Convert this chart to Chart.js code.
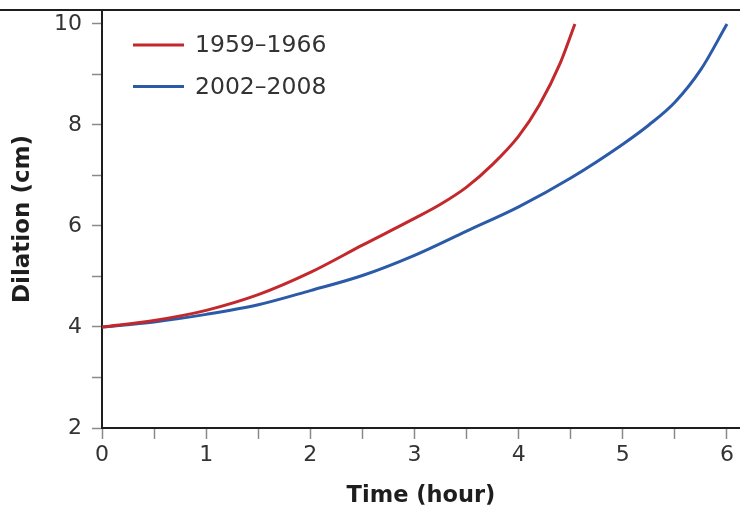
<!DOCTYPE html>
<html>
<head>
<meta charset="utf-8">
<script src="https://cdn.jsdelivr.net/npm/chart.js@4/dist/chart.umd.min.js"></script>
<style>
  html, body { margin: 0; padding: 0; background: #fff; }
  #wrap { width: 740px; height: 513px; }
</style>
</head>
<body>
<div id="wrap"><canvas id="c" width="740" height="513"></canvas></div>
<script>
// ---- data ----
const seriesLabels = ['1959\u20131966', '2002\u20132008'];
const redX = [0, 0.5, 1, 1.5, 2, 2.5, 3, 3.25, 3.5, 3.75, 4, 4.2, 4.4, 4.54];
const redY = [4.0, 4.13, 4.33, 4.64, 5.08, 5.62, 6.15, 6.43, 6.77, 7.22, 7.78, 8.40, 9.23, 10.0];
const blueX = [0, 0.5, 1, 1.5, 2, 2.5, 3, 3.5, 4, 4.5, 5, 5.25, 5.5, 5.75, 6];
const blueY = [4.0, 4.1, 4.25, 4.44, 4.72, 5.02, 5.42, 5.90, 6.38, 6.95, 7.62, 8.0, 8.45, 9.1, 10.0];
const xTicks = [0, 0.5, 1, 1.5, 2, 2.5, 3, 3.5, 4, 4.5, 5, 5.5, 6];
const xTickLabels = ['0', '', '1', '', '2', '', '3', '', '4', '', '5', '', '6'];
const yTicks = [2, 3, 4, 5, 6, 7, 8, 9, 10];
const yTickLabels = ['2', '', '4', '', '6', '', '8', '', '10'];

const RED = '#c3282c';
const BLUE = '#2b5ba8';
const FONT = 'DejaVu Sans';

function toPoints(xs, ys) { return xs.map((x, i) => ({ x: x, y: ys[i] })); }

const frameAndLegend = {
  id: 'frameAndLegend',
  afterDraw(chart) {
    const ctx = chart.ctx;
    const a = chart.chartArea;
    ctx.save();
    // top frame line
    ctx.strokeStyle = '#1e1e1e';
    ctx.lineWidth = 2;
    ctx.beginPath();
    ctx.moveTo(0, a.top);
    ctx.lineTo(chart.width, a.top);
    ctx.stroke();
    // legend
    const rows = [35, 76.5];
    chart.data.datasets.forEach((ds, i) => {
      const y = a.top + rows[i];
      ctx.strokeStyle = ds.borderColor;
      ctx.lineWidth = 3;
      ctx.beginPath();
      ctx.moveTo(a.left + 31, y);
      ctx.lineTo(a.left + 82, y);
      ctx.stroke();
      ctx.fillStyle = '#333';
      ctx.font = '23.5px "' + FONT + '"';
      ctx.textAlign = 'left';
      ctx.textBaseline = 'middle';
      ctx.fillText(ds.label, a.left + 93, y + 1);
    });
    ctx.restore();
  }
};

new Chart(document.getElementById('c'), {
  type: 'line',
  data: {
    datasets: [
      { label: seriesLabels[0], data: toPoints(redX, redY), borderColor: RED, backgroundColor: RED,
        borderWidth: 3, pointRadius: 0, tension: 0.4, cubicInterpolationMode: 'monotone', fill: false },
      { label: seriesLabels[1], data: toPoints(blueX, blueY), borderColor: BLUE, backgroundColor: BLUE,
        borderWidth: 3, pointRadius: 0, tension: 0.4, cubicInterpolationMode: 'monotone', fill: false }
    ]
  },
  options: {
    responsive: false,
    animation: false,
    devicePixelRatio: 1,
    layout: { padding: { top: 10, right: 0, bottom: 0, left: 0 } },
    plugins: { legend: { display: false }, tooltip: { enabled: false } },
    scales: {
      x: {
        type: 'linear',
        min: 0,
        max: 6.125,
        afterFit(scale) { scale.height = 85; scale.paddingLeft = 0; scale.paddingRight = 0; },
        afterBuildTicks(scale) { scale.ticks = xTicks.map(v => ({ value: v })); },
        ticks: {
          autoSkip: false,
          maxRotation: 0,
          padding: 3,
          color: '#333',
          font: { family: FONT, size: 22 },
          callback: (v) => { const i = xTicks.indexOf(v); return i >= 0 ? xTickLabels[i] : ''; }
        },
        grid: { drawOnChartArea: false, drawTicks: true, tickLength: 11, tickColor: '#8a8a8a', tickWidth: 1.5 },
        border: { display: true, color: '#1e1e1e', width: 2 },
        title: { display: true, text: 'Time (hour)', color: '#1e1e1e',
                 font: { family: FONT, size: 22.5, weight: 'bold' }, padding: { top: 0, bottom: 3 } }
      },
      y: {
        type: 'linear',
        min: 2,
        max: 10.277,
        afterFit(scale) { scale.width = 102; scale.paddingTop = 0; scale.paddingBottom = 0; },
        afterBuildTicks(scale) { scale.ticks = yTicks.map(v => ({ value: v })); },
        ticks: {
          autoSkip: false,
          padding: 10,
          color: '#333',
          font: { family: FONT, size: 22 },
          callback: (v) => { const i = yTicks.indexOf(v); return i >= 0 ? yTickLabels[i] : ''; }
        },
        grid: { drawOnChartArea: false, drawTicks: true, tickLength: 10, tickColor: '#8a8a8a', tickWidth: 1.5 },
        border: { display: true, color: '#1e1e1e', width: 2 },
        title: { display: true, text: 'Dilation (cm)', color: '#1e1e1e',
                 font: { family: FONT, size: 23, weight: 'bold' }, padding: { top: 9, bottom: 0 } }
      }
    }
  },
  plugins: [frameAndLegend]
});
</script>
</body>
</html>
